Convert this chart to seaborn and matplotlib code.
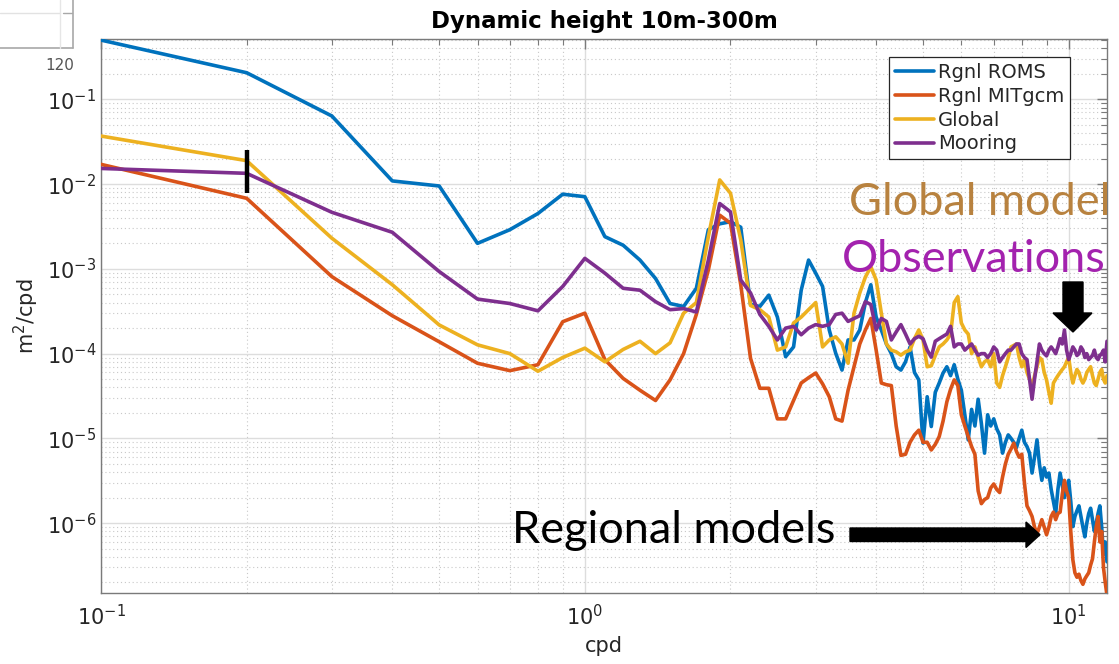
import numpy as np
import pandas as pd
import matplotlib
matplotlib.use("Agg")
import matplotlib.pyplot as plt
import seaborn as sns
from matplotlib.patches import Polygon
from matplotlib.lines import Line2D
from matplotlib.ticker import LogLocator, NullFormatter, LogFormatterSciNotation

# ---------------- data ----------------
freq = np.round(np.arange(1, 121) * 0.1, 1)   # cpd, 0.1 ... 12.0

roms = [0.50, 0.206, 0.0636, 0.0109, 0.0095, 0.0020, 0.0029, 0.0045, 0.0076, 0.0071,
        0.0024, 0.0019, 0.00127, 0.00077, 0.00039, 0.00036, 0.00059, 0.0029, 0.0034, 0.0036,
        0.0031, 0.00038, 0.00036, 0.00049, 0.00027, 9.2e-5, 1.2e-4, 5.6e-4, 1.27e-3, 8.9e-4,
        6.2e-4, 1.9e-4, 1.01e-4, 6.4e-5, 1.45e-4, 1.45e-4, 1.9e-4, 4.0e-4, 6.5e-4, 2.7e-4,
        1.9e-4, 1.3e-4, 1.0e-4, 7.0e-5, 6.4e-5, 8.0e-5, 1.2e-4, 6.0e-5, 4.9e-5, 8.8e-6,
        3.1e-5, 1.38e-5, 3.5e-5, 4.5e-5, 5.9e-5, 7.0e-5, 5.5e-5, 7.4e-5, 5.0e-5, 3.7e-5,
        1.9e-5, 9.6e-6, 2.2e-5, 1.4e-5, 2.9e-5, 1.5e-5, 6.7e-6, 1.9e-5, 1.4e-5, 1.7e-5,
        1.3e-5, 1.1e-5, 6.7e-6, 9.0e-6, 1.1e-5, 1.0e-5, 9.0e-6, 7.8e-6, 1.0e-5, 1.25e-5,
        9.0e-6, 8.0e-6, 6.7e-6, 3.9e-6, 6.0e-6, 9.6e-6, 5.0e-6, 3.2e-6, 4.5e-6, 3.5e-6,
        3.9e-6, 2.5e-6, 1.8e-6, 1.3e-6, 2.5e-6, 3.9e-6, 2.8e-6, 2.0e-6, 2.6e-6, 3.2e-6,
        1.8e-6, 9.1e-7, 1.2e-6, 1.4e-6, 1.6e-6, 1.2e-6, 9.0e-7, 6.9e-7, 1.0e-6, 1.3e-6,
        1.5e-6, 1.1e-6, 8.0e-7, 1.0e-6, 1.3e-6, 1.6e-6, 9.0e-7, 4.3e-7, 6.0e-7, 3.5e-7]

mitgcm = [0.0171, 0.0068, 0.00081, 0.00028, 1.38e-4, 7.7e-5, 6.3e-5, 7.4e-5, 2.38e-4, 3.0e-4,
          8.5e-5, 5.1e-5, 3.7e-5, 2.8e-5, 4.9e-5, 1.0e-4, 2.9e-4, 9.7e-4, 4.3e-3, 3.45e-3,
          6.5e-4, 8.8e-5, 3.9e-5, 3.9e-5, 1.7e-5, 1.7e-5, 2.8e-5, 4.5e-5, 5.2e-5, 5.9e-5,
          4.4e-5, 3.1e-5, 1.7e-5, 1.6e-5, 3.7e-5, 7.0e-5, 1.3e-4, 1.9e-4, 2.6e-4, 1.1e-4,
          4.5e-5, 4.3e-5, 4.2e-5, 1.4e-5, 6.3e-6, 6.5e-6, 9.0e-6, 1.1e-5, 1.25e-5, 9.0e-6,
          9.0e-6, 7.3e-6, 8.5e-6, 1.05e-5, 1.6e-5, 2.7e-5, 3.8e-5, 4.9e-5, 4.2e-5, 1.9e-5,
          1.4e-5, 1.05e-5, 8.0e-6, 6.5e-6, 2.4e-6, 1.7e-6, 1.9e-6, 2.0e-6, 2.6e-6, 2.9e-6,
          2.5e-6, 2.3e-6, 3.5e-6, 5.0e-6, 6.5e-6, 7.5e-6, 8.8e-6, 7.0e-6, 6.0e-6, 6.5e-6,
          3.0e-6, 1.6e-6, 1.4e-6, 1.2e-6, 9.0e-7, 7.5e-7, 9.0e-7, 1.1e-6, 9.0e-7, 7.3e-7,
          9.0e-7, 1.2e-6, 1.35e-6, 1.1e-6, 1.3e-6, 1.35e-6, 2.2e-6, 3.2e-6, 2.4e-6, 2.0e-6,
          8.0e-7, 3.7e-7, 2.6e-7, 2.3e-7, 2.5e-7, 2.1e-7, 1.9e-7, 2.2e-7, 2.4e-7, 2.6e-7,
          3.2e-7, 3.8e-7, 6.0e-7, 9.0e-7, 1.2e-6, 6.0e-7, 8.0e-7, 3.0e-7, 2.0e-7, 1.4e-7]

global_model = [0.0369, 0.0189, 0.0023, 0.00065, 2.18e-4, 1.27e-4, 1.0e-4, 6.2e-5, 9.0e-5, 1.16e-4,
                8.0e-5, 1.12e-4, 1.4e-4, 1.0e-4, 1.34e-4, 3.0e-4, 4.0e-4, 2.4e-3, 1.12e-2, 7.8e-3,
                2.2e-3, 3.7e-4, 3.3e-4, 2.7e-4, 1.1e-4, 1.2e-4, 2.3e-4, 2.7e-4, 3.3e-4, 4.0e-4,
                1.2e-4, 1.45e-4, 1.58e-4, 1.3e-4, 7.7e-5, 3.0e-4, 5.2e-4, 8.0e-4, 1.06e-3, 7.4e-4,
                3.0e-4, 1.3e-4, 1.1e-4, 1.05e-4, 9.6e-5, 1.05e-4, 1.1e-4, 1.5e-4, 1.9e-4, 1.45e-4,
                7.0e-5, 7.2e-5, 9.5e-5, 1.2e-4, 1.3e-4, 1.45e-4, 1.7e-4, 4.0e-4, 4.7e-4, 2.3e-4,
                1.9e-4, 1.7e-4, 1.0e-4, 1.2e-4, 9.0e-5, 7.0e-5, 8.0e-5, 8.5e-5, 7.0e-5, 1.0e-4,
                4.5e-5, 4.0e-5, 5.5e-5, 7.0e-5, 9.0e-5, 1.2e-4, 1.25e-4, 1.3e-4, 9.0e-5, 7.0e-5,
                8.5e-5, 6.0e-5, 5.0e-5, 4.0e-5, 5.5e-5, 7.0e-5, 9.0e-5, 8.5e-5, 6.0e-5, 4.9e-5,
                3.5e-5, 2.6e-5, 4.5e-5, 5.0e-5, 5.5e-5, 6.0e-5, 6.5e-5, 7.0e-5, 8.0e-5, 9.0e-5,
                6.0e-5, 4.5e-5, 5.5e-5, 6.5e-5, 6.0e-5, 5.0e-5, 4.5e-5, 5.0e-5, 6.0e-5, 6.5e-5,
                7.0e-5, 5.5e-5, 4.5e-5, 4.2e-5, 5.0e-5, 6.0e-5, 6.5e-5, 5.0e-5, 4.5e-5, 5.5e-5]

mooring = [0.0153, 0.0134, 0.00465, 0.0027, 9.3e-4, 4.4e-4, 3.9e-4, 3.2e-4, 6.2e-4, 1.33e-3,
           8.9e-4, 5.9e-4, 5.6e-4, 4.1e-4, 3.3e-4, 3.4e-4, 3.1e-4, 1.27e-3, 5.9e-3, 4.7e-3,
           7.4e-4, 5.2e-4, 2.9e-4, 2.1e-4, 1.45e-4, 2.0e-4, 2.1e-4, 1.67e-4, 2.0e-4, 2.2e-4,
           2.1e-4, 2.2e-4, 2.9e-4, 3.0e-4, 2.4e-4, 2.6e-4, 2.8e-4, 4.1e-4, 3.8e-4, 1.9e-4,
           2.6e-4, 2.4e-4, 1.45e-4, 1.8e-4, 2.2e-4, 1.7e-4, 1.3e-4, 1.5e-4, 1.6e-4, 1.5e-4,
           1.1e-4, 9.1e-5, 1.4e-4, 1.5e-4, 1.6e-4, 1.7e-4, 2.1e-4, 1.2e-4, 1.3e-4, 1.3e-4,
           1.1e-4, 1.2e-4, 1.3e-4, 1.1e-4, 9.6e-5, 1.0e-4, 1.0e-4, 9.0e-5, 1.0e-4, 1.2e-4,
           1.1e-4, 8.0e-5, 9.0e-5, 1.0e-4, 1.1e-4, 1.1e-4, 1.2e-4, 1.3e-4, 1.3e-4, 1.0e-4,
           9.0e-5, 8.5e-5, 5.0e-5, 2.9e-5, 5.0e-5, 8.0e-5, 1.3e-4, 1.1e-4, 1.0e-4, 9.4e-5,
           1.1e-4, 1.2e-4, 1.1e-4, 1.0e-4, 1.2e-4, 1.5e-4, 1.3e-4, 1.9e-4, 1.1e-4, 8.5e-5,
           1.0e-4, 1.2e-4, 1.1e-4, 9.5e-5, 1.0e-4, 1.2e-4, 1.1e-4, 9.0e-5, 1.0e-4, 8.5e-5,
           9.0e-5, 9.5e-5, 1.1e-4, 9.0e-5, 8.5e-5, 9.5e-5, 1.0e-4, 1.1e-4, 8.0e-5, 1.4e-4]

series_names = ["Rgnl ROMS", "Rgnl MITgcm", "Global", "Mooring"]
series_colors = ["#0072BD", "#D95319", "#EDB120", "#7E2F8E"]

# confidence bar at 0.2 cpd
ci_freq = [0.2, 0.2]
ci_range = [0.00785, 0.0252]

# ---------------- figure ----------------
sns.set_style("white")
plt.rcParams["font.family"] = ["DejaVu Sans"]

W, H = 1119, 664
fig = plt.figure(figsize=(W / 100, H / 100), dpi=100)
L, R, T, B = 101, 1107, 39, 593
ax = fig.add_axes([L / W, 1 - B / H, (R - L) / W, (B - T) / H])
ax.set_xscale("log")
ax.set_yscale("log")

df = pd.concat([pd.DataFrame({"cpd": freq, "psd": vals, "series": name})
                for name, vals in zip(series_names, [roms, mitgcm, global_model, mooring])],
               ignore_index=True)
palette = dict(zip(series_names, series_colors))
sns.lineplot(data=df, x="cpd", y="psd", hue="series", hue_order=series_names,
             palette=palette, estimator=None, sort=False, linewidth=2.6,
             ax=ax, legend=False, zorder=3)

ax.plot(ci_freq, ci_range, color="black", lw=3.2, solid_capstyle="butt", zorder=4)

ax.set_xlim(0.1, 12)
ax.set_ylim(1.5e-7, 0.515)

ax.xaxis.set_major_locator(LogLocator(base=10, numticks=20))
ax.xaxis.set_minor_locator(LogLocator(base=10, subs=np.arange(2, 10), numticks=100))
ax.yaxis.set_major_locator(LogLocator(base=10, numticks=20))
ax.yaxis.set_minor_locator(LogLocator(base=10, subs=np.arange(2, 10), numticks=100))
ax.xaxis.set_major_formatter(LogFormatterSciNotation())
ax.yaxis.set_major_formatter(LogFormatterSciNotation())
ax.xaxis.set_minor_formatter(NullFormatter())
ax.yaxis.set_minor_formatter(NullFormatter())

ax.set_axisbelow(True)
ax.grid(True, which="major", color="#dddddd", lw=1.0, ls="-")
ax.grid(True, which="minor", color="#c8c8c8", lw=0.8, ls=(0, (1, 2.5)))

ax.tick_params(which="both", direction="in", top=True, right=True,
               colors="#7a7a7a", labelcolor="#262626", labelsize=15)
ax.tick_params(which="major", length=7, width=1)
ax.tick_params(which="minor", length=4, width=0.8)
ax.tick_params(axis="x", pad=8)
for s in ax.spines.values():
    s.set_color("#7a7a7a")
    s.set_linewidth(1.0)

ax.set_xlabel("cpd", fontsize=15, color="#262626", labelpad=5)
ax.set_ylabel("m$^2$/cpd", fontsize=15, color="#262626", labelpad=4)
ax.set_title("Dynamic height 10m-300m", fontsize=16.5, fontweight="bold",
             color="black", pad=8)

handles = [Line2D([0], [0], color=c, lw=2.6) for c in series_colors]
leg = ax.legend(handles, series_names, loc="upper right",
                bbox_to_anchor=((1070 - L) / (R - L), (B - 57) / (B - T)),
                borderaxespad=0, fontsize=14, frameon=True, fancybox=False,
                edgecolor="#262626", framealpha=1, handlelength=2.0,
                handletextpad=0.2, labelspacing=0.25, borderpad=0.3)
leg.get_frame().set_linewidth(0.9)


def px(x, y):
    return (x / W, 1 - y / H)


# annotations (slide overlay)
fig.text(*px(849, 215), "Global model", fontsize=32.5, family=["Lato", "DejaVu Sans"],
         color="#B8823F", va="baseline", ha="left")
fig.text(*px(842, 272), "Observations", fontsize=32.5, family=["Lato", "DejaVu Sans"],
         color="#A322AE", va="baseline", ha="left")
fig.text(*px(512, 543), "Regional models", fontsize=32.5, family=["Lato", "DejaVu Sans"],
         color="black", va="baseline", ha="left")

harrow = [(850, 528), (1026, 528), (1026, 522), (1040, 534.7), (1026, 547.5),
          (1026, 541.5), (850, 541.5)]
fig.add_artist(Polygon([px(x, y) for x, y in harrow], closed=True,
                       transform=fig.transFigure, color="black", zorder=10))
varrow = [(1063, 282), (1083, 282), (1083, 313), (1092, 313), (1073, 332),
          (1053, 313), (1063, 313)]
fig.add_artist(Polygon([px(x, y) for x, y in varrow], closed=True,
                       transform=fig.transFigure, color="black", zorder=10))

# screenshot fragment top-left
for (x0, y0, x1, y1, c, lw) in [(73, 0, 73, 48, "#a8a8a8", 1.2), (0, 48, 73, 48, "#a8a8a8", 1.2),
                                (0, 12.5, 60, 12.5, "#e2e2e2", 1.0), (60, 0, 60, 48, "#e6e6e6", 1.0),
                                (63, 12.5, 72, 12.5, "#a8a8a8", 1.0)]:
    fig.add_artist(Line2D([x0 / W, x1 / W], [1 - y0 / H, 1 - y1 / H],
                          transform=fig.transFigure, color=c, lw=lw))
fig.text(*px(60, 66), "120", fontsize=11, color="#555555", ha="center", va="center")

fig.savefig("out.png", dpi=100, facecolor="white")
